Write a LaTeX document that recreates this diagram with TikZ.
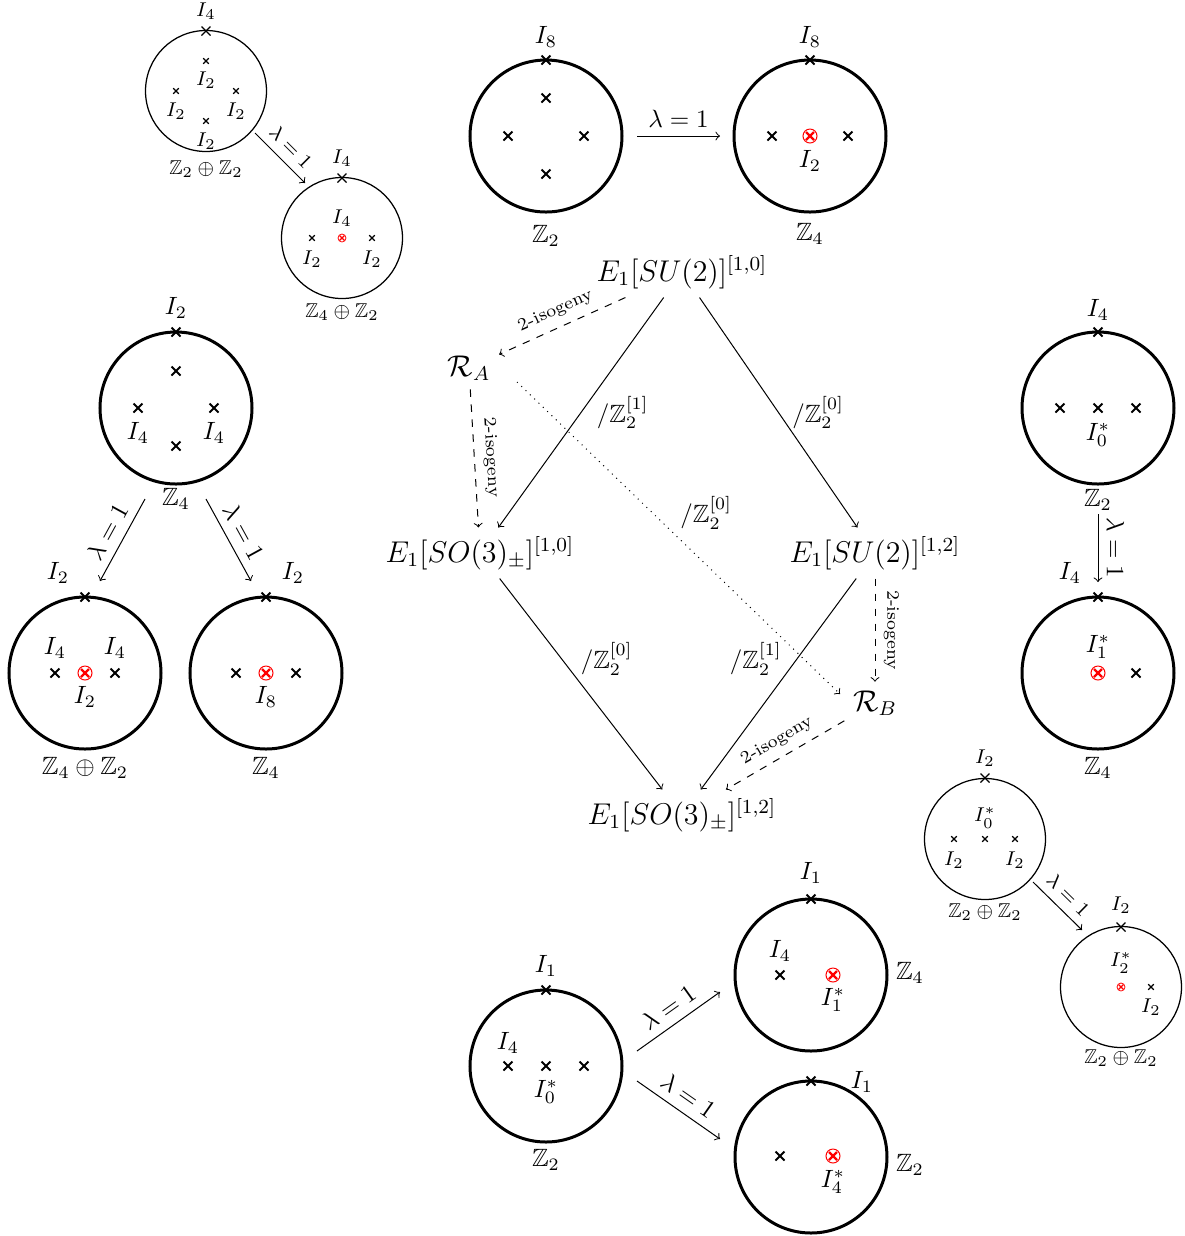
\documentclass[tikz,border=0pt]{standalone}
\usepackage{amssymb}
\begin{document}
\begin{tikzpicture}[x=0.4pt,y=-0.4pt,
  bigc/.style={circle, draw, line width=1.2pt, minimum size=60.8pt, inner sep=0pt},
  smc/.style={circle, draw, line width=0.5pt, minimum size=48.4pt, inner sep=0pt},
  lab/.style={inner sep=0pt},
  slab/.style={inner sep=0pt, font=\footnotesize},
  main/.style={font=\large},
  iso/.style={font=\scriptsize, sloped, above},
  bx/.pic={\draw[line width=0.8pt] (-4.5,-4.5)--(4.5,4.5) (-4.5,4.5)--(4.5,-4.5);},
  tx/.pic={\draw[line width=0.5pt] (-4.5,-4.5)--(4.5,4.5) (-4.5,4.5)--(4.5,-4.5);},
  sx/.pic={\draw[line width=0.45pt] (-2.8,-2.8)--(2.8,2.8) (-2.8,2.8)--(2.8,-2.8);},
  brx/.pic={\draw[red, line width=0.4pt] (0,0) circle (7); \draw[red, line width=0.9pt] (-4,-4)--(4,4) (-4,4)--(4,-4);},
  srx/.pic={\draw[red, line width=0.3pt] (0,0) circle (4); \draw[red, line width=0.5pt] (-2.5,-2.5)--(2.5,2.5) (-2.5,2.5)--(2.5,-2.5);}
]
\useasboundingbox (0,0) rectangle (1185,1236);

% ---------- top middle ----------
\node[bigc] (c1) at (546,136) {};
\pic at (546,60) {bx}; \pic at (546,98) {bx}; \pic at (508,136) {bx}; \pic at (584,136) {bx}; \pic at (546,174) {bx};
\node[lab] (c1t) at (546,37) {$I_8$};
\node[lab] (c1b) at (546,236) {$\mathbb{Z}_2$};
\node[bigc] (c2) at (810,136) {};
\pic at (810,60) {bx}; \pic at (772,136) {bx}; \pic at (848,136) {bx}; \pic at (810,136) {brx};
\node[lab] (c2t) at (810,37) {$I_8$};
\node[lab] (c2i) at (810,161) {$I_2$};
\node[lab] (c2b) at (810,234) {$\mathbb{Z}_4$};
\coordinate (a1s) at (637,136); \coordinate (a1e) at (720,136);
\draw[->] (a1s) -- node[above, sloped] {$\lambda=1$} (a1e);

% ---------- top left small ----------
\node[smc] (sA) at (206,91) {};
\pic at (206,31) {tx}; \pic at (206,61) {sx}; \pic at (176,91) {sx}; \pic at (236,91) {sx}; \pic at (206,121) {sx};
\node[slab] (sAt) at (206,11) {$I_4$};
\node[slab] (sA1) at (206,80) {$I_2$};
\node[slab] (sA2) at (176,111) {$I_2$};
\node[slab] (sA3) at (236,111) {$I_2$};
\node[slab] (sA4) at (206,141) {$I_2$};
\node[slab] (sAb) at (206,169) {$\mathbb{Z}_2\oplus\mathbb{Z}_2$};
\node[smc] (sB) at (342,238) {};
\pic at (342,178) {tx}; \pic at (312,238) {sx}; \pic at (372,238) {sx}; \pic at (342,238) {srx};
\node[slab] (sBt) at (342,158) {$I_4$};
\node[slab] (sB1) at (342,218) {$I_4$};
\node[slab] (sB2) at (312,259) {$I_2$};
\node[slab] (sB3) at (372,259) {$I_2$};
\node[slab] (sBb) at (342,312) {$\mathbb{Z}_4\oplus\mathbb{Z}_2$};
\coordinate (a2s) at (255,133); \coordinate (a2e) at (305,183);
\draw[->] (a2s) -- node[above, sloped, font=\footnotesize] {$\lambda=1$} (a2e);

% ---------- left middle ----------
\node[bigc] (cC) at (176,408) {};
\pic at (176,332) {bx}; \pic at (176,371) {bx}; \pic at (138,408) {bx}; \pic at (214,408) {bx}; \pic at (176,446) {bx};
\node[lab] (cCt) at (176,308) {$I_2$};
\node[lab] (cC1) at (138,433) {$I_4$};
\node[lab] (cC2) at (214,433) {$I_4$};
\node[lab] (cCb) at (176,499) {$\mathbb{Z}_4$};
\node[bigc] (cD) at (85,673) {};
\pic at (85,597) {bx}; \pic at (55,673) {bx}; \pic at (115,673) {bx}; \pic at (85,673) {brx};
\node[lab] (cDt) at (58,573) {$I_2$};
\node[lab] (cD1) at (55,648) {$I_4$};
\node[lab] (cD2) at (115,648) {$I_4$};
\node[lab] (cD3) at (85,697) {$I_2$};
\node[lab] (cDb) at (85,768) {$\mathbb{Z}_4\oplus\mathbb{Z}_2$};
\node[bigc] (cE) at (266,673) {};
\pic at (266,597) {bx}; \pic at (236,673) {bx}; \pic at (296,673) {bx}; \pic at (266,673) {brx};
\node[lab] (cEt) at (293,573) {$I_2$};
\node[lab] (cE1) at (266,697) {$I_8$};
\node[lab] (cEb) at (266,768) {$\mathbb{Z}_4$};
\coordinate (a3s) at (145,499); \coordinate (a3e) at (100,581);
\draw[->] (a3s) -- node[above, sloped] {$\lambda=1$} (a3e);
\coordinate (a4s) at (206,499); \coordinate (a4e) at (251,581);
\draw[->] (a4s) -- node[above, sloped] {$\lambda=1$} (a4e);

% ---------- right ----------
\node[bigc] (cF) at (1098,408) {};
\pic at (1098,332) {bx}; \pic at (1060,408) {bx}; \pic at (1098,408) {bx}; \pic at (1136,408) {bx};
\node[lab] (cFt) at (1098,310) {$I_4$};
\node[lab] (cF1) at (1098,435) {$I_0^*$};
\node[lab] (cFb) at (1098,500) {$\mathbb{Z}_2$};
\node[bigc] (cG) at (1098,673) {};
\pic at (1098,597) {bx}; \pic at (1136,673) {bx}; \pic at (1098,673) {brx};
\node[lab] (cGt) at (1070,573) {$I_4$};
\node[lab] (cG1) at (1098,647) {$I_1^*$};
\node[lab] (cGb) at (1098,768) {$\mathbb{Z}_4$};
\coordinate (a5s) at (1098,514); \coordinate (a5e) at (1098,582);
\draw[->] (a5s) -- node[above, sloped] {$\lambda=1$} (a5e);

% ---------- bottom right small ----------
\node[smc] (sH) at (985,839) {};
\pic at (985,778) {tx}; \pic at (954,839) {sx}; \pic at (985,839) {sx}; \pic at (1015,839) {sx};
\node[slab] (sHt) at (985,758) {$I_2$};
\node[slab] (sH1) at (985,818) {$I_0^*$};
\node[slab] (sH2) at (954,860) {$I_2$};
\node[slab] (sH3) at (1015,860) {$I_2$};
\node[slab] (sHb) at (985,912) {$\mathbb{Z}_2\oplus\mathbb{Z}_2$};
\node[smc] (sI) at (1121,987) {};
\pic at (1121,927) {tx}; \pic at (1151,987) {sx}; \pic at (1121,987) {srx};
\node[slab] (sIt) at (1121,905) {$I_2$};
\node[slab] (sI1) at (1121,963) {$I_2^*$};
\node[slab] (sI2) at (1151,1007) {$I_2$};
\node[slab] (sIb) at (1121,1058) {$\mathbb{Z}_2\oplus\mathbb{Z}_2$};
\coordinate (a6s) at (1033,882); \coordinate (a6e) at (1082,930);
\draw[->] (a6s) -- node[above, sloped, font=\footnotesize] {$\lambda=1$} (a6e);

% ---------- bottom middle ----------
\node[bigc] (cJ) at (546,1066) {};
\pic at (546,990) {bx}; \pic at (508,1066) {bx}; \pic at (546,1066) {bx}; \pic at (584,1066) {bx};
\node[lab] (cJt) at (546,966) {$I_1$};
\node[lab] (cJ1) at (508,1043) {$I_4$};
\node[lab] (cJ2) at (546,1092) {$I_0^*$};
\node[lab] (cJb) at (546,1160) {$\mathbb{Z}_2$};
\node[bigc] (cK) at (811,975) {};
\pic at (811,899) {bx}; \pic at (780,975) {bx}; \pic at (833,975) {brx};
\node[lab] (cKt) at (811,873) {$I_1$};
\node[lab] (cK1) at (780,951) {$I_4$};
\node[lab] (cK2) at (833,1000) {$I_1^*$};
\node[lab] (cKb) at (910,973) {$\mathbb{Z}_4$};
\node[bigc] (cL) at (811,1157) {};
\pic at (811,1081) {bx}; \pic at (780,1156) {bx}; \pic at (833,1156) {brx};
\node[lab] (cLt) at (862,1082) {$I_1$};
\node[lab] (cL1) at (833,1182) {$I_4^*$};
\node[lab] (cLb) at (910,1165) {$\mathbb{Z}_2$};
\coordinate (a7s) at (637,1051); \coordinate (a7e) at (720,992);
\draw[->] (a7s) -- node[above, sloped] {$\lambda=1$} (a7e);
\coordinate (a8s) at (637,1081); \coordinate (a8e) at (720,1139);
\draw[->] (a8s) -- node[above, sloped] {$\lambda=1$} (a8e);

% ---------- central diagram ----------
\node[main] (top) at (682,272) {$E_1[SU(2)]^{[1,0]}$};
\node[main] (RA) at (469,368) {$\mathcal{R}_A$};
\node[main] (L) at (480,553) {$E_1[SO(3)_\pm]^{[1,0]}$};
\node[main] (R) at (875,553) {$E_1[SU(2)]^{[1,2]}$};
\node[main] (RB) at (875,703) {$\mathcal{R}_B$};
\node[main] (bot) at (682,815) {$E_1[SO(3)_\pm]^{[1,2]}$};

\draw[->] (top) -- node[right, xshift=2.8pt] {$/\mathbb{Z}_2^{[1]}$} (L);
\draw[->] (top) -- node[right, xshift=2pt] {$/\mathbb{Z}_2^{[0]}$} (R);
\draw[->] (L) -- node[above right, xshift=-3.6pt] {$/\mathbb{Z}_2^{[0]}$} (bot);
\draw[->] (R) -- node[above left, xshift=4.8pt] {$/\mathbb{Z}_2^{[1]}$} (bot);
\draw[->, dashed] (top) -- node[iso] {2-isogeny} (RA);
\draw[->, dashed] (RA) -- node[iso] {2-isogeny} (L);
\draw[->, dashed] (R) -- node[iso] {2-isogeny} (RB);
\draw[->, dashed] (RB) -- node[iso] {2-isogeny} (bot);
\draw[->, dotted] ([shift={(48,14)}]RA.center) -- node[above right, xshift=-2.8pt] {$/\mathbb{Z}_2^{[0]}$} ([shift={(-35,-9)}]RB.center);
\end{tikzpicture}
\end{document}
